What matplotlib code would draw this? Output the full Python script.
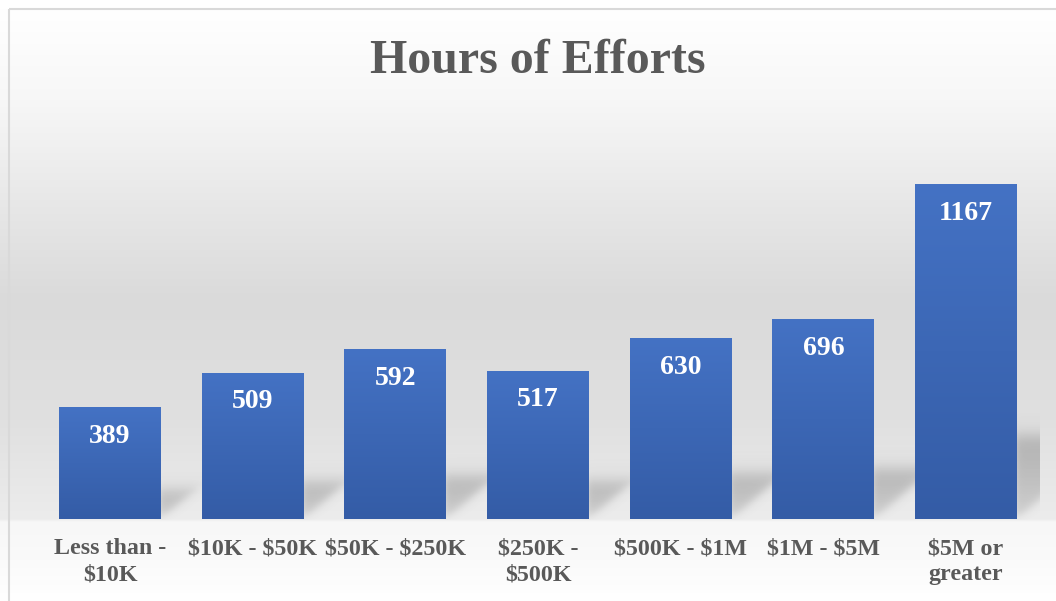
import numpy as np
import matplotlib
matplotlib.use("Agg")
import matplotlib.pyplot as plt
from matplotlib.patches import Rectangle

categories = ["Less than -\n$10K", "$10K - $50K", "$50K - $250K", "$250K -\n$500K",
              "$500K - $1M", "$1M - $5M", "$5M or\ngreater"]
hours = [389, 509, 592, 517, 630, 696, 1167]

plt.rcParams['font.family'] = ['Liberation Serif', 'DejaVu Serif']
plt.rcParams['text.parse_math'] = False

W, H = 1056, 601
fig = plt.figure(figsize=(W / 100, H / 100), dpi=100)

# background gradient (whole chart area)
bg = fig.add_axes([0, 0, 1, 1], zorder=0)
bg.set_xlim(0, W)
bg.set_ylim(H, 0)
bg.axis("off")
ys = np.array([0, 10, 100, 200, 300, 420, 519, 522, 560, 601])
vs = np.array([255, 255, 247, 232, 218, 224, 236, 247, 250, 255]) / 255
yy = np.arange(H) + 0.5
col = np.interp(yy, ys, vs)
img = np.repeat(col[:, None], 2, axis=1)
bg.imshow(np.dstack([img, img, img]), extent=[0, W, H, 0], aspect="auto", interpolation="bilinear")
bg.add_patch(Rectangle((9, 9), W + 20, H + 20, fill=False, ec="#d9d9d9", lw=1.5))

# main axes
n = len(hours)
x = np.arange(n)
px_per_unit = 335 / 1167
ymax = 1300
ax = fig.add_axes([38.7 / W, (H - 519) / H, 998.6 / W, ymax * px_per_unit / H], zorder=1)
ax.set_xlim(-0.5, n - 0.5)
ax.set_ylim(0, ymax)
ax.patch.set_alpha(0)
for s in ax.spines.values():
    s.set_visible(False)
ax.tick_params(length=0)
ax.set_yticks([])

bw = 0.715
bars = ax.bar(x, hours, width=bw, color="#3f68b8", zorder=3)

# soft perspective shadows, built in pixel space from the bar geometry
fig.canvas.draw()
PX, PY = np.meshgrid(np.arange(W) + 0.5, np.arange(H) + 0.5)
alpha = np.zeros((H, W))
sig = lambda t: 1 / (1 + np.exp(-t))
for b in bars:
    (xl, yb), (xr, yt) = ax.transData.transform([(b.get_x(), 0), (b.get_x() + b.get_width(), b.get_height())])
    yb_px, yt_px = H - yb, H - yt
    hs = 0.25 * (yb_px - yt_px)
    v = yb_px - PY
    u = PX - xr
    a = (sig((1.15 * v - u) / 4.0) * sig((u + 2) / 2.0) * sig((v - 1) / 3.0)
         * sig((hs - v) / 5.0) * (0.55 + 0.45 * np.clip(v / hs, 0, 1)))
    alpha = np.maximum(alpha, a)
alpha[PX > 1040] = 0
alpha[PY > 520] = 0
shadow = np.zeros((H, W, 4))
shadow[..., :3] = 0.35
shadow[..., 3] = alpha * 0.36
bg.imshow(shadow, extent=[0, W, H, 0], aspect="auto", interpolation="bilinear", zorder=2)

# gradient fill of bars
grad = np.linspace(0, 1, 256)[:, None]
top_c = np.array([0x44, 0x72, 0xc4]) / 255
bot_c = np.array([0x34, 0x5c, 0xa6]) / 255
gimg = top_c[None, None, :] * (1 - grad[:, :, None]) + bot_c[None, None, :] * grad[:, :, None]
gimg = np.repeat(gimg, 2, axis=1)
for b in bars:
    x0, w, h = b.get_x(), b.get_width(), b.get_height()
    im = ax.imshow(gimg, extent=[x0, x0 + w, 0, h], aspect="auto", zorder=4, origin="upper")
    im.set_clip_path(b)
ax.set_xlim(-0.5, n - 0.5)
ax.set_ylim(0, ymax)

for xi, h in zip(x, hours):
    ax.text(xi, h - 29 / px_per_unit, str(h), ha="center", va="center", color="white",
            fontsize=20, fontweight="bold", zorder=5)

ax.set_xticks(x)
ax.set_xticklabels(categories, fontsize=17.3, fontweight="bold", color="#595959", linespacing=1.3)
ax.tick_params(axis="x", pad=14)

fig.text(538 / W, 1 - 61 / H, "Hours of Efforts", ha="center", va="center",
         fontsize=34.5, fontweight="bold", color="#595959")

fig.savefig("out.png", dpi=100)
